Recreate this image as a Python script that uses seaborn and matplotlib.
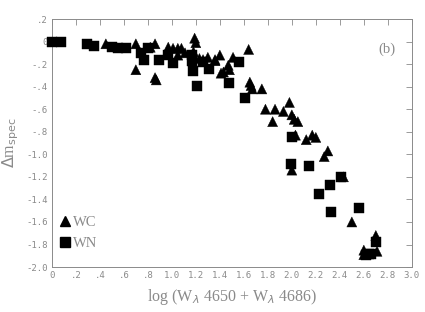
import matplotlib
matplotlib.use("Agg")
import matplotlib.pyplot as plt
import seaborn as sns
import pandas as pd
import numpy as np
from matplotlib.lines import Line2D

# WC stars (triangles)
wc_x = [0.45, 0.70, 0.70, 0.82, 0.86, 0.86, 0.87, 0.97, 1.01, 1.05, 1.08, 1.05, 1.11,
        1.19, 1.20, 1.18, 1.23, 1.30, 1.26, 1.36, 1.40, 1.36, 1.51, 1.47, 1.48, 1.43,
        1.41, 1.64, 1.65, 1.66, 1.67, 1.75, 1.78, 1.86, 1.93, 1.98, 1.84, 2.00, 2.02,
        2.05, 2.03, 2.12, 2.17, 2.20, 2.30, 2.27, 2.00, 2.43, 2.50, 2.70, 2.60, 2.60, 2.71]
wc_y = [-0.02, -0.02, -0.25, -0.05, -0.02, -0.32, -0.34, -0.05, -0.06, -0.06, -0.06, -0.12, -0.10,
        0.03, -0.01, -0.09, -0.15, -0.14, -0.16, -0.16, -0.12, -0.17, -0.14, -0.21, -0.25, -0.27,
        -0.28, -0.07, -0.36, -0.39, -0.42, -0.42, -0.60, -0.60, -0.62, -0.54, -0.71, -0.65, -0.69,
        -0.71, -0.83, -0.87, -0.83, -0.85, -0.97, -1.02, -1.14, -1.20, -1.60, -1.72, -1.85, -1.89, -1.86]

# WN stars (squares)
wn_x = [0.00, 0.08, 0.29, 0.35, 0.50, 0.55, 0.62, 0.74, 0.77, 0.80, 0.89, 0.97, 1.01,
        1.17, 1.17, 1.18, 1.21, 1.26, 1.31, 1.56, 1.48, 1.61, 1.99, 2.00, 2.14, 2.41,
        2.32, 2.23, 2.33, 2.56, 2.70, 2.64, 2.66, 2.62]
wn_y = [0.00, 0.00, -0.02, -0.04, -0.05, -0.06, -0.06, -0.10, -0.16, -0.06, -0.16, -0.12, -0.19,
        -0.12, -0.17, -0.26, -0.39, -0.18, -0.24, -0.18, -0.37, -0.50, -1.09, -0.85, -1.10, -1.20,
        -1.27, -1.35, -1.51, -1.48, -1.78, -1.88, -1.88, -1.89]

x_ticks = [0, 0.2, 0.4, 0.6, 0.8, 1.0, 1.2, 1.4, 1.6, 1.8, 2.0, 2.2, 2.4, 2.6, 2.8, 3.0]
x_labels = ["0", ".2", ".4", ".6", ".8", "1.0", "1.2", "1.4", "1.6", "1.8", "2.0",
            "2.2", "2.4", "2.6", "2.8", "3.0"]
y_ticks = [0.2, 0, -0.2, -0.4, -0.6, -0.8, -1.0, -1.2, -1.4, -1.6, -1.8, -2.0]
y_labels = [".2", "0", "-.2", "-.4", "-.6", "-.8", "-1.0", "-1.2", "-1.4", "-1.6", "-1.8", "-2.0"]

df = pd.DataFrame({
    "x": wc_x + wn_x,
    "y": wc_y + wn_y,
    "type": ["WC"] * len(wc_x) + ["WN"] * len(wn_x),
})

sns.set_style("white")
plt.rcParams["font.family"] = ["DejaVu Sans"]

fig = plt.figure(figsize=(4.25, 3.12), dpi=100)
ax = fig.add_axes([0.122, 0.144, 0.847, 0.795])

grey = "#8a8a8a"
sns.scatterplot(data=df, x="x", y="y", style="type", markers={"WC": "^", "WN": "s"},
                hue="type", palette={"WC": "black", "WN": "black"},
                s=52, edgecolor="black", linewidth=0.3, ax=ax, legend=False,
                clip_on=False, zorder=3)

ax.set_xlim(0, 3.0)
ax.set_ylim(-2.0, 0.2)
ax.set_xticks(x_ticks)
ax.set_xticklabels(x_labels)
ax.set_yticks(y_ticks)
ax.set_yticklabels(y_labels)
ax.tick_params(direction="in", length=4, width=0.6, colors=grey, labelsize=6.5,
               top=True, right=True, labelcolor=grey, pad=3)
for lab in ax.get_xticklabels() + ax.get_yticklabels():
    lab.set_family("DejaVu Sans Mono")
for sp in ax.spines.values():
    sp.set_color(grey)
    sp.set_linewidth(0.7)

ax.set_xlabel(r"log (W$_\lambda$ 4650 + W$_\lambda$ 4686)", color=grey, fontsize=11.5,
              family="Liberation Serif", labelpad=5)
ax.set_ylabel(r"$\Delta$m$_{\rm spec}$", color=grey, fontsize=11.5,
              family="Liberation Serif", labelpad=4)

ax.text(0.93, 0.88, "(b)", transform=ax.transAxes, color=grey, fontsize=10.5,
        family="Liberation Serif", ha="center", va="center")

handles = [Line2D([], [], marker="^", color="black", linestyle="none", markersize=7.5),
           Line2D([], [], marker="s", color="black", linestyle="none", markersize=6.5)]
leg = ax.legend(handles, ["WC", "WN"], loc="lower left", bbox_to_anchor=(-0.025, 0.015),
                frameon=False, handletextpad=0.0, labelspacing=0.55, handlelength=1.2,
                prop={"family": "Liberation Serif", "size": 10.5})
for t in leg.get_texts():
    t.set_color(grey)

fig.savefig("out.png", dpi=100)
